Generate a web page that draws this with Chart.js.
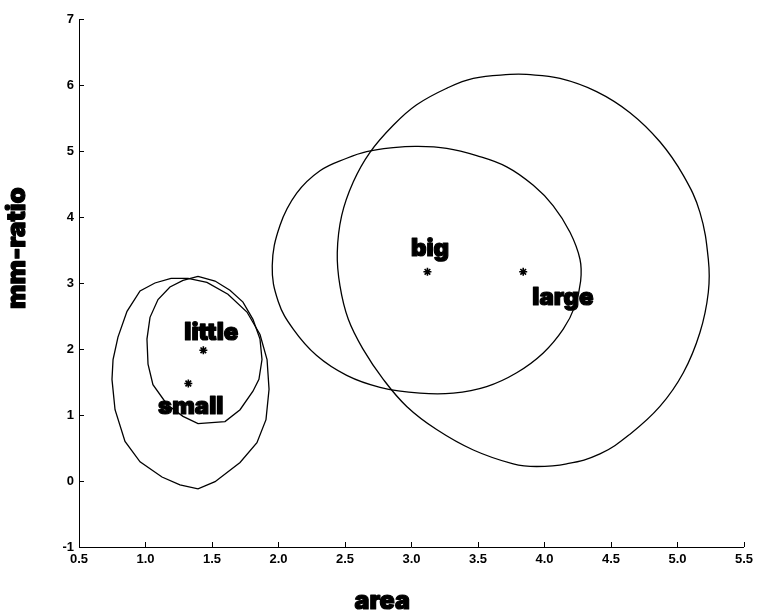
<!DOCTYPE html>
<html>
<head>
<meta charset="utf-8">
<script src="https://cdn.jsdelivr.net/npm/chart.js@4/dist/chart.umd.min.js"></script>
<style>
  body { margin: 0; background: #fff; }
  #wrap { width: 758px; height: 611px; position: relative; }
</style>
</head>
<body>
<div id="wrap"><canvas id="ellipseChart"></canvas></div>
<script>
// tick values
const xTicks = [0.5, 1, 1.5, 2, 2.5, 3, 3.5, 4, 4.5, 5, 5.5];
const yTicks = [-1, 0, 1, 2, 3, 4, 5, 6, 7];

// outlines, one vertex per entry
const smallX = [1.192, 1.320, 1.462, 1.620, 1.763, 1.861, 1.914, 1.929, 1.906, 1.838, 1.711, 1.523, 1.395, 1.259, 1.124, 0.959, 0.846, 0.771, 0.748, 0.756, 0.793, 0.861, 0.959, 1.071];
const smallY = [3.07, 3.07, 3.01, 2.83, 2.56, 2.22, 1.84, 1.39, 0.93, 0.58, 0.28, -0.01, -0.12, -0.06, 0.06, 0.29, 0.60, 1.08, 1.54, 1.84, 2.18, 2.57, 2.88, 3.00];

const littleX = [1.395, 1.523, 1.635, 1.733, 1.808, 1.861, 1.876, 1.853, 1.808, 1.711, 1.598, 1.395, 1.282, 1.162, 1.056, 1.019, 1.011, 1.034, 1.094, 1.184, 1.282];
const littleY = [3.10, 3.03, 2.89, 2.71, 2.45, 2.15, 1.84, 1.54, 1.36, 1.08, 0.90, 0.87, 0.98, 1.16, 1.46, 1.77, 2.15, 2.48, 2.75, 2.94, 3.04];

const bigX = [1.953, 2.011, 2.137, 2.312, 2.513, 2.663, 2.863, 3.039, 3.265, 3.490, 3.716, 3.916, 4.066, 4.192, 4.267, 4.272, 4.229, 4.141, 3.991, 3.791, 3.565, 3.314, 3.064, 2.763, 2.513, 2.287, 2.111, 1.998];
const bigY = [3.26, 3.87, 4.36, 4.70, 4.89, 4.99, 5.05, 5.07, 5.04, 4.93, 4.76, 4.48, 4.17, 3.77, 3.36, 3.03, 2.65, 2.30, 1.94, 1.64, 1.43, 1.33, 1.33, 1.42, 1.60, 1.90, 2.30, 2.72];

const largeX = [3.741, 3.465, 3.265, 3.039, 2.863, 2.688, 2.562, 2.475, 2.442, 2.462, 2.525, 2.638, 2.788, 2.964, 3.189, 3.465, 3.765, 3.941, 4.167, 4.417, 4.643, 4.868, 5.044, 5.169, 5.232, 5.232, 5.169, 5.044, 4.868, 4.643, 4.392, 4.117, 3.866];
const largeY = [6.16, 6.10, 5.95, 5.70, 5.39, 4.98, 4.53, 4.02, 3.46, 2.96, 2.45, 1.99, 1.54, 1.13, 0.78, 0.47, 0.26, 0.22, 0.26, 0.41, 0.71, 1.13, 1.64, 2.25, 2.86, 3.36, 4.07, 4.63, 5.14, 5.58, 5.90, 6.10, 6.16];

// centres (the * marks)
const centreX = [3.12, 3.84, 1.435, 1.322];
const centreY = [3.17, 3.17, 1.98, 1.477];

// word labels, anchored at their baseline centre
const wordNames = ['big', 'large', 'little', 'small'];
const wordX = [3.139, 4.139, 1.495, 1.340];
const wordY = [3.41, 2.66, 2.13, 1.01];

const FAMILY = 'Inter, "Noto Sans", sans-serif';

// wrap the outline so the smoothed curve closes without a kink;
// the two extra segments are left invisible
function outline(xs, ys, tension) {
    const pts = xs.map((x, i) => ({ x: x, y: ys[i] }));
    const n = pts.length;
    const data = [pts[n - 1], ...pts, pts[0], pts[1]];
    const last = data.length - 2;
    return {
        data: data,
        showLine: true,
        borderColor: '#000',
        borderWidth: 1.3,
        pointRadius: 0,
        tension: tension,
        fill: false,
        segment: {
            borderColor: c => (c.p0DataIndex === 0 || c.p0DataIndex === last) ? 'rgba(0,0,0,0)' : '#000'
        }
    };
}

function heavyText(ctx, text, x, y) {
    ctx.fillText(text, x, y);
    ctx.strokeText(text, x, y);
}

const extras = {
    id: 'extras',
    afterDraw(chart) {
        const ctx = chart.ctx;
        const xs = chart.scales.x;
        const ys = chart.scales.y;
        const area = chart.chartArea;

        ctx.save();
        ctx.strokeStyle = '#000';
        ctx.lineWidth = 1;
        // inward tick marks
        xTicks.forEach(v => {
            const px = Math.round(xs.getPixelForValue(v)) + 0.5;
            ctx.beginPath();
            ctx.moveTo(px, area.bottom);
            ctx.lineTo(px, area.bottom - 5);
            ctx.stroke();
        });
        yTicks.forEach(v => {
            const py = Math.round(ys.getPixelForValue(v)) + 0.5;
            ctx.beginPath();
            ctx.moveTo(area.left, py);
            ctx.lineTo(area.left + 5, py);
            ctx.stroke();
        });

        ctx.fillStyle = '#000';
        ctx.lineWidth = 1.2;
        ctx.lineJoin = 'round';
        ctx.font = '900 24px ' + FAMILY;
        ctx.textAlign = 'center';
        ctx.textBaseline = 'alphabetic';
        wordNames.forEach((w, i) => {
            heavyText(ctx, w, xs.getPixelForValue(wordX[i]), ys.getPixelForValue(wordY[i]));
        });

        // axis titles
        ctx.font = '900 25px ' + FAMILY;
        heavyText(ctx, 'area', area.left + (area.right - area.left) * 0.456, chart.height - 2);
        ctx.translate(25, area.top + (area.bottom - area.top) * 0.434);
        ctx.rotate(-Math.PI / 2);
        ctx.font = '900 26px ' + FAMILY;
        heavyText(ctx, 'mm-ratio', 0, 0);
        ctx.restore();
    }
};

const tickFont = { family: '"Liberation Sans", Arial, sans-serif', size: 13, weight: 'bold' };

new Chart(document.getElementById('ellipseChart').getContext('2d'), {
    type: 'scatter',
    data: {
        datasets: [
            outline(smallX, smallY, 0),
            outline(littleX, littleY, 0),
            outline(bigX, bigY, 0.4),
            outline(largeX, largeY, 0.4),
            {
                data: centreX.map((x, i) => ({ x: x, y: centreY[i] })),
                pointStyle: 'star',
                pointRadius: 4,
                borderColor: '#000',
                backgroundColor: '#000',
                borderWidth: 1.6,
                showLine: false
            }
        ]
    },
    options: {
        responsive: true,
        maintainAspectRatio: false,
        animation: false,
        layout: { padding: { left: 0, right: 14, top: 19, bottom: 0 } },
        plugins: {
            legend: { display: false },
            tooltip: { enabled: false }
        },
        scales: {
            x: {
                type: 'linear',
                min: 0.5,
                max: 5.5,
                afterBuildTicks: s => { s.ticks = xTicks.map(v => ({ value: v })); },
                afterFit: s => { s.height = 64; },
                grid: { display: false, drawTicks: false },
                border: { display: true, color: '#000', width: 1 },
                ticks: { color: '#000', font: tickFont, padding: 5, maxRotation: 0, autoSkip: false }
            },
            y: {
                type: 'linear',
                min: -1,
                max: 7,
                afterBuildTicks: s => { s.ticks = yTicks.map(v => ({ value: v })); },
                afterFit: s => { s.width = 79; },
                grid: { display: false, drawTicks: false },
                border: { display: true, color: '#000', width: 1 },
                ticks: { color: '#000', font: tickFont, padding: 5, autoSkip: false }
            }
        }
    },
    plugins: [extras]
});
</script>
</body>
</html>
